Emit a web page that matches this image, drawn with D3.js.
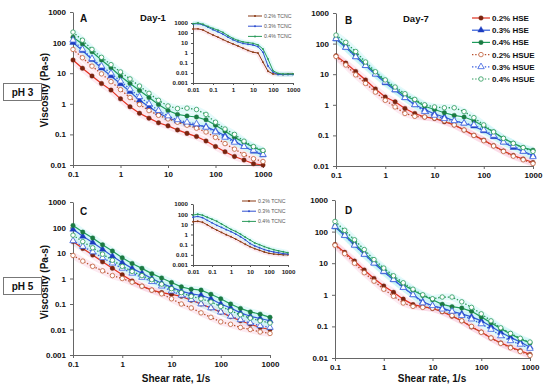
<!DOCTYPE html>
<html><head><meta charset="utf-8">
<script src="https://cdn.jsdelivr.net/npm/d3@7"></script>
<style>
body{margin:0;background:#fff;}
svg{font-family:"Liberation Sans",Arial,sans-serif;}
</style></head>
<body><svg id="c" width="550" height="390"></svg>
<script>
// ---------- DATA ----------
const shearRate = [0.1,0.158,0.251,0.398,0.631,1,1.585,2.512,3.981,6.31,10,15.85,25.12,39.81,63.1,100,158.5,251.2,398.1,631,1000];
const seriesNames = ["0.2% HSE","0.3% HSE","0.4% HSE","0.2% HSUE","0.3% HSUE","0.4% HSUE"];
const xTickValues = [0.1,1,10,100,1000];
const yTicks5 = [0.01,0.1,1,10,100,1000];
const yTicks6 = [0.001,0.01,0.1,1,10,100,1000];

// Panel A (pH 3, Day-1)
const A_hse02  = [27,14.5,8.1,4.6,2.8,1.45,0.8,0.49,0.34,0.24,0.19,0.14,0.108,0.085,0.061,0.04,0.027,0.019,0.0145,0.011,0.01];
const A_hse03  = [100,55,28,14.5,8.1,4.5,2.5,1.3,0.8,0.5,0.35,0.27,0.22,0.2,0.18,0.13,0.09,0.06,0.04,0.028,0.021];
const A_hse04  = [150,90,50,27,15,8,4.6,2.7,1.6,0.95,0.6,0.45,0.4,0.37,0.3,0.2,0.13,0.08,0.055,0.038,0.028];
const A_hsue02 = [60,32,17,9.5,5.3,2.9,1.6,0.95,0.6,0.42,0.32,0.25,0.2,0.16,0.12,0.08,0.05,0.033,0.022,0.016,0.013];
const A_hsue03 = [120,60,30,17,10,5.5,3,1.7,1,0.6,0.4,0.3,0.25,0.22,0.17,0.12,0.08,0.055,0.04,0.03,0.022];
const A_hsue04 = [220,120,60,33,19,11,6.5,3.8,2.2,1.3,0.85,0.7,0.72,0.65,0.45,0.25,0.15,0.1,0.06,0.04,0.03];

// Panel B (pH 3, Day-7)
const B_hse02  = [40,23,12.3,6.5,3.3,1.8,1.25,0.76,0.52,0.4,0.36,0.28,0.22,0.15,0.1,0.07,0.046,0.031,0.022,0.017,0.013];
const B_hse03  = [140,75,37,19,10,5.2,3,1.7,1.0,0.7,0.5,0.4,0.3,0.25,0.2,0.14,0.09,0.06,0.04,0.03,0.022];
const B_hse04  = [150,80,42,21,11,6,3.3,2,1.4,0.9,0.7,0.55,0.45,0.4,0.3,0.2,0.13,0.08,0.055,0.04,0.033];
const B_hsue02 = [38,20,9.5,5,2.6,1.4,0.85,0.52,0.42,0.4,0.37,0.3,0.22,0.15,0.1,0.067,0.045,0.03,0.021,0.016,0.012];
const B_hsue03 = [145,75,37,19,10,5.5,3.1,1.7,1.0,0.6,0.45,0.35,0.3,0.25,0.22,0.15,0.1,0.06,0.045,0.03,0.02];
const B_hsue04 = [190,110,55,25,12,6.5,3.8,2.3,1.5,1.0,0.85,0.8,0.8,0.6,0.38,0.22,0.13,0.08,0.055,0.04,0.03];

// Panel C (pH 5, Day-1)
const C_hse02  = [28,15,8.3,4.5,2.5,1.4,0.8,0.5,0.35,0.28,0.24,0.2,0.14,0.1,0.07,0.048,0.032,0.022,0.016,0.012,0.01];
const C_hse03  = [85,45,26,14,7.5,4.2,2.5,1.6,1.0,0.65,0.45,0.32,0.25,0.22,0.16,0.1,0.07,0.045,0.033,0.027,0.022];
const C_hse04  = [120,66,39,21,12,6.5,3.9,2.5,1.55,1.05,0.7,0.47,0.38,0.35,0.24,0.16,0.1,0.067,0.049,0.04,0.03];
const C_hsue02 = [8,4.8,3,2,1.3,1.0,0.72,0.5,0.35,0.25,0.16,0.1,0.07,0.045,0.03,0.02,0.016,0.012,0.01,0.008,0.007];
const C_hsue03 = [30,18,11,6.5,4,2.5,1.6,1.1,0.75,0.5,0.32,0.22,0.15,0.1,0.07,0.048,0.033,0.024,0.018,0.014,0.012];
const C_hsue04 = [50,28,16,9,5.2,3,1.9,1.3,0.9,0.6,0.4,0.28,0.2,0.16,0.12,0.08,0.055,0.038,0.028,0.022,0.018];

// Panel D (pH 5, Day-7)
const D_hse02  = [39,22,11.7,6.1,3.3,1.9,1.2,0.73,0.49,0.42,0.37,0.29,0.21,0.15,0.096,0.066,0.043,0.03,0.022,0.017,0.013];
const D_hse03  = [140,75,37,19,10,5.3,3,1.7,1.0,0.6,0.45,0.38,0.3,0.25,0.2,0.15,0.1,0.065,0.045,0.032,0.022];
const D_hse04  = [150,80,42,21,11,6,3.4,2.1,1.4,0.95,0.7,0.5,0.42,0.38,0.3,0.2,0.13,0.085,0.058,0.04,0.03];
const D_hsue02 = [37,20,10,5,2.7,1.5,0.9,0.55,0.43,0.4,0.38,0.3,0.22,0.15,0.1,0.065,0.043,0.029,0.021,0.016,0.012];
const D_hsue03 = [145,75,37,19,10,5.5,3,1.7,1,0.55,0.45,0.35,0.3,0.22,0.17,0.12,0.08,0.05,0.035,0.027,0.02];
const D_hsue04 = [210,110,55,27,13,7,4,2.4,1.5,1,0.75,0.85,0.85,0.6,0.4,0.25,0.15,0.09,0.06,0.042,0.032];

// Insets (TCNC)
const insetRate = [0.01,0.0178,0.0316,0.0562,0.1,0.178,0.316,0.562,1,1.78,3.16,5.62,10,17.8,31.6,56.2,100,178,316,562,1000];
const insetNames = ["0.2% TCNC","0.3% TCNC","0.4% TCNC"];
const insetXTicks = [0.01,0.1,1,10,100,1000];
const insA_02 = [250,260,200,110,63,38,22,13,8,5,3,1.8,1.2,1.0,0.12,0.015,0.008,0.008,0.007,0.008,0.008];
const insA_03 = [800,850,650,380,215,130,75,38,21,13,9,7.5,6.3,4.3,1.2,0.05,0.012,0.007,0.007,0.007,0.007];
const insA_04 = [850,1000,750,450,290,190,115,55,29,18,13,11,9.3,6.5,2.5,0.25,0.017,0.009,0.008,0.008,0.008];
const insC_02 = [18,20,16,9,4.7,2.7,1.6,0.95,0.6,0.35,0.2,0.11,0.063,0.04,0.028,0.019,0.014,0.012,0.011,0.01,0.01];
const insC_03 = [50,60,45,25,14,8,5,3,1.9,1.1,0.6,0.3,0.13,0.075,0.05,0.033,0.024,0.019,0.016,0.013,0.012];
const insC_04 = [80,100,80,50,32,20,11,6,3.2,2,1.1,0.55,0.29,0.15,0.1,0.065,0.044,0.032,0.025,0.02,0.016];

// ---------- STYLES ----------
const styles = [
  {line:"#e0301e", mark:"#7a2410", fill:"#7a2410", shape:"circle",   dash:null, halo:"#f7b8d2"},
  {line:"#2f5ad8", mark:"#1c3cc0", fill:"#1c3cc0", shape:"triangle", dash:null, halo:"#a8eef2"},
  {line:"#1e9c5c", mark:"#1a7a42", fill:"#1a7a42", shape:"circle",   dash:null, halo:"#a8eef2"},
  {line:"#b8502e", mark:"#c0603a", fill:"#fff",    shape:"circle",   dash:"1.4,1.8", halo:"#f7b8d2"},
  {line:"#3a5fe0", mark:"#3a5fe0", fill:"#fff",    shape:"triangle", dash:"1.4,1.8", halo:"#a8eef2"},
  {line:"#2a9a5a", mark:"#2a9a5a", fill:"#fff",    shape:"circle",   dash:"1.4,1.8", halo:"#a8eef2"}
];
const insetColors = ["#8b3a14","#3050d0","#2a9a5a"];

const svg = d3.select("#c");
const fmt = d => String(d);

function markerPath(shape, size){
  return d3.symbol().type(shape==="triangle"?d3.symbolTriangle:d3.symbolCircle).size(size)();
}

function drawPanel(p){
  const x = d3.scaleLog().domain([0.1,1000]).range(p.xr);
  const y = d3.scaleLog().domain(p.yd).range(p.yr);
  const g = svg.append("g");
  // halos
  p.data.forEach((vals,i)=>{
    const pts = shearRate.map((r,k)=>[x(r),y(vals[k])]);
    g.append("path").attr("d",d3.line()(pts)).attr("fill","none")
      .attr("stroke",styles[i].halo).attr("stroke-width",7).attr("opacity",0.3)
      .attr("stroke-linejoin","round");
  });
  const xa = g.append("g").attr("transform",`translate(0,${p.yr[0]})`)
    .call(d3.axisBottom(x).tickValues(xTickValues).tickFormat(fmt).tickSize(3).tickSizeOuter(0).tickPadding(3));
  const ya = g.append("g").attr("transform",`translate(${p.xr[0]},0)`)
    .call(d3.axisLeft(y).tickValues(p.yt).tickFormat(fmt).tickSize(3).tickSizeOuter(0).tickPadding(4));
  [xa,ya].forEach(a=>{
    a.selectAll("path,line").attr("stroke","#666");
    a.selectAll("text").attr("font-size",8).attr("font-weight","bold").attr("fill","#111")
      .attr("font-family","'Liberation Sans',Arial,sans-serif");
  });
  p.data.forEach((vals,i)=>{
    const s = styles[i];
    const pts = shearRate.map((r,k)=>[x(r),y(vals[k])]);
    const path = g.append("path").attr("d",d3.line()(pts)).attr("fill","none")
      .attr("stroke",s.line).attr("stroke-width",s.dash?1.3:1.2);
    if(s.dash) path.attr("stroke-dasharray",s.dash);
    g.selectAll(null).data(pts).enter().append("path")
      .attr("d",markerPath(s.shape, s.shape==="triangle"?18:16))
      .attr("transform",d=>`translate(${d[0]},${d[1]})`)
      .attr("fill",s.fill).attr("stroke",s.mark).attr("stroke-width",s.fill==="#fff"?0.8:0.4);
  });
  g.append("text").attr("x",p.letter[0]).attr("y",p.letter[1]).text(p.name)
    .attr("font-size",10).attr("font-weight","bold").attr("fill","#111");
}

function drawInset(p){
  const x = d3.scaleLog().domain([0.01,1000]).range(p.xr);
  const y = d3.scaleLog().domain([0.001,1000]).range(p.yr);
  const g = svg.append("g");
  p.data.forEach((vals,i)=>{
    const pts = insetRate.map((r,k)=>[x(r),y(vals[k])]);
    g.append("path").attr("d",d3.line()(pts)).attr("fill","none")
      .attr("stroke",i===0?"#f7b8d2":"#a8eef2").attr("stroke-width",5).attr("opacity",0.3);
  });
  const xa = g.append("g").attr("transform",`translate(0,${p.yr[0]})`)
    .call(d3.axisBottom(x).tickValues(insetXTicks).tickFormat(fmt).tickSize(2).tickSizeOuter(0).tickPadding(3));
  const ya = g.append("g").attr("transform",`translate(${p.xr[0]},0)`)
    .call(d3.axisLeft(y).tickValues(yTicks6).tickFormat(fmt).tickSize(2).tickSizeOuter(0).tickPadding(3));
  [xa,ya].forEach(a=>{
    a.selectAll("path,line").attr("stroke","#555");
    a.selectAll("text").attr("font-size",6.2).attr("fill","#222").attr("font-weight","bold");
  });
  p.data.forEach((vals,i)=>{
    const pts = insetRate.map((r,k)=>[x(r),y(vals[k])]);
    g.append("path").attr("d",d3.line()(pts)).attr("fill","none")
      .attr("stroke",insetColors[i]).attr("stroke-width",1);
    g.selectAll(null).data(pts).enter().append("circle")
      .attr("cx",d=>d[0]).attr("cy",d=>d[1]).attr("r",0.9).attr("fill",insetColors[i]);
  });
  insetNames.forEach((n,i)=>{
    const yy = p.leg[1] + i*10.2;
    g.append("line").attr("x1",p.leg[0]).attr("x2",p.leg[0]+14).attr("y1",yy).attr("y2",yy)
      .attr("stroke",insetColors[i]).attr("stroke-width",1);
    g.append("circle").attr("cx",p.leg[0]+7).attr("cy",yy).attr("r",1).attr("fill",insetColors[i]);
    g.append("text").attr("x",p.leg[0]+16).attr("y",yy+2).text(n)
      .attr("font-size",5.2).attr("fill","#555");
  });
}

drawPanel({name:"A", xr:[73,263], yd:[0.01,1000], yr:[165,12], yt:yTicks5, letter:[80,22],
  data:[A_hse02,A_hse03,A_hse04,A_hsue02,A_hsue03,A_hsue04]});
drawPanel({name:"B", xr:[336,533], yd:[0.01,1000], yr:[166,13], yt:yTicks5, letter:[345,24],
  data:[B_hse02,B_hse03,B_hse04,B_hsue02,B_hsue03,B_hsue04]});
drawPanel({name:"C", xr:[73,270], yd:[0.001,1000], yr:[355,202], yt:yTicks6, letter:[80,215],
  data:[C_hse02,C_hse03,C_hse04,C_hsue02,C_hsue03,C_hsue04]});
drawPanel({name:"D", xr:[335,530], yd:[0.01,1000], yr:[358,200], yt:yTicks5, letter:[345,214],
  data:[D_hse02,D_hse03,D_hse04,D_hsue02,D_hsue03,D_hsue04]});

drawInset({xr:[193,293], yr:[83,23], leg:[248,16], data:[insA_02,insA_03,insA_04]});
drawInset({xr:[193,288], yr:[265,204], leg:[242,201], data:[insC_02,insC_03,insC_04]});

// titles
svg.append("text").attr("x",140).attr("y",21).text("Day-1").attr("font-size",9.5).attr("font-weight","bold").attr("fill","#111");
svg.append("text").attr("x",403).attr("y",22).text("Day-7").attr("font-size",9.5).attr("font-weight","bold").attr("fill","#111");

// axis titles
[[90],[282]].forEach(([cy])=>{
  svg.append("text").attr("transform",`translate(48,${cy}) rotate(-90)`).attr("text-anchor","middle")
    .text("Viscosity (Pa-s)").attr("font-size",10).attr("font-weight","bold").attr("fill","#111");
});
[[176],[432]].forEach(([cx])=>{
  svg.append("text").attr("x",cx).attr("y",382).attr("text-anchor","middle")
    .text("Shear rate, 1/s").attr("font-size",10).attr("font-weight","bold").attr("fill","#111");
});

// pH boxes
[["pH 3",83],["pH 5",277]].forEach(([t,yy])=>{
  svg.append("rect").attr("x",3.5).attr("y",yy+0.5).attr("width",38).attr("height",17)
    .attr("fill","#fff").attr("stroke","#777").attr("stroke-width",1);
  svg.append("text").attr("x",22.5).attr("y",yy+12.5).attr("text-anchor","middle").text(t)
    .attr("font-size",10).attr("font-weight","bold").attr("fill","#111");
});

// legend (panel B)
seriesNames.forEach((n,i)=>{
  const s = styles[i];
  const yy = 18 + i*12.2;
  const l = svg.append("line").attr("x1",472).attr("x2",490).attr("y1",yy).attr("y2",yy)
    .attr("stroke",s.line).attr("stroke-width",1.2);
  if(s.dash) l.attr("stroke-dasharray",s.dash);
  svg.append("path").attr("d",markerPath(s.shape, s.shape==="triangle"?18:16))
    .attr("transform",`translate(481,${yy})`).attr("fill",s.fill).attr("stroke",s.mark)
    .attr("stroke-width",s.fill==="#fff"?0.8:0.4);
  svg.append("text").attr("x",492).attr("y",yy+3).text(n)
    .attr("font-size",8).attr("font-weight","bold").attr("fill","#111");
});
</script></body></html>
